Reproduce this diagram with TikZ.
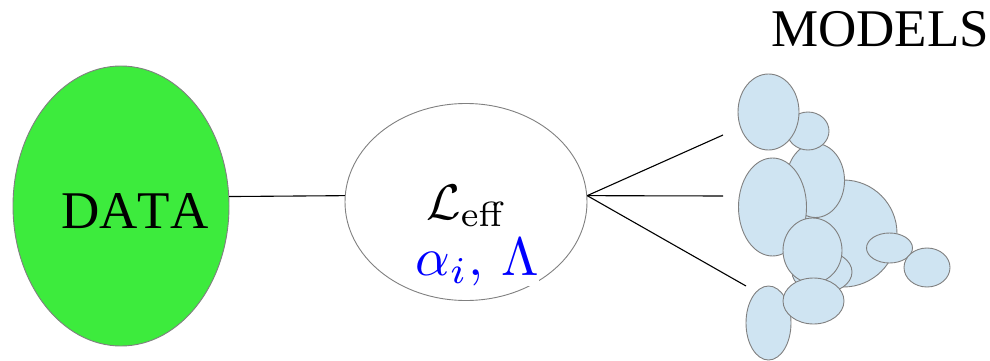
\RequirePackage{fix-cm}
\documentclass[tikz,border=0pt]{standalone}
\usepackage[no-math]{fontspec}
\setmainfont[Kerning=Off]{Liberation Serif}
\usetikzlibrary{shapes.geometric}
\definecolor{datagreen}{RGB}{61,235,61}
\definecolor{modelblue}{RGB}{207,228,242}
\definecolor{rimgray}{RGB}{128,128,128}
\newcommand{\model}[5]{%
  \node[model,minimum width=#4pt,minimum height=#5pt] (#1) at (#2,#3) {};%
}

\begin{document}
\begin{tikzpicture}[x=1pt,y=-1pt,
  blob/.style={ellipse,draw=rimgray,line width=0.9pt,inner sep=0pt},
  model/.style={blob,fill=modelblue},
  link/.style={black,line width=1.1pt},
  bigtext/.style={anchor=base,font=\fontsize{53}{60}\selectfont}]
  \useasboundingbox (0,0) rectangle (990,361);
  % data side
  \node[blob,fill=datagreen,minimum width=216pt,minimum height=280pt] (data) at (121,206) {};
  \node[bigtext] (datatxt) at (135,228) {DATA};
  % effective theory
  \node[blob,fill=white,minimum width=242pt,minimum height=197pt] (eff) at (466,202) {};
  \node[anchor=base] (lag) at (467,219) {\scalebox{5}{$\mathcal{L}_{\mathrm{eff}}$}};
  \node[anchor=base,fill=white,inner sep=0pt,text=blue] (par) at (477,275) {\scalebox{5.4}{$\alpha_i,\,\Lambda$}};
  % models
  \node[bigtext] (models) at (880,47) {MODELS};
  \model{m4}{843.5}{233.5}{107}{107}
  \model{m3}{815.5}{180.5}{58}{74}
  \model{m2}{808}{131}{42}{38}
  \model{m1}{768.5}{112}{61}{76}
  \model{m5}{772.5}{207}{68}{98}
  \model{m7}{822}{272}{60}{42}
  \model{m6}{812.5}{250.5}{59}{65}
  \model{m9}{768.5}{323}{45}{74}
  \model{m8}{813.5}{301}{61}{46}
  \model{m10}{889.5}{248}{46}{30}
  \model{m11}{927}{267.5}{46}{39}
  % connectors
  \coordinate (up) at (723,135);
  \coordinate (mid) at (723,196);
  \coordinate (low) at (746,286);
  \draw[link] (data.5) -- (eff.177);
  \draw[link] (eff.3) -- (up);
  \draw[link] (eff.3) -- (mid);
  \draw[link] (eff.3) -- (low);
\end{tikzpicture}
\end{document}
